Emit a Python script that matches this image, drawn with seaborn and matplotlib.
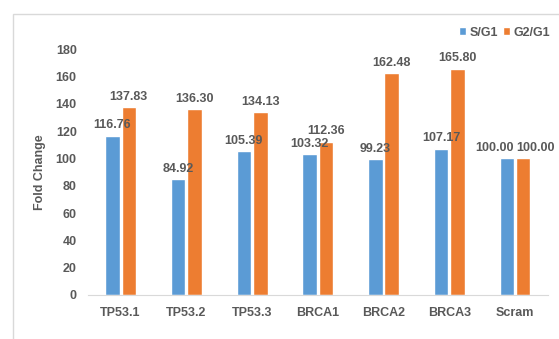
import pandas as pd
import matplotlib.pyplot as plt
import seaborn as sns
from matplotlib.patches import Rectangle

groups = ["TP53.1", "TP53.2", "TP53.3", "BRCA1", "BRCA2", "BRCA3", "Scram"]
s_g1 = [116.76, 84.92, 105.39, 103.32, 99.23, 107.17, 100.00]
g2_g1 = [137.83, 136.30, 134.13, 112.36, 162.48, 165.80, 100.00]
series = ["S/G1", "G2/G1"]
colors = ["#5B9BD5", "#ED7D31"]
yticks = [0, 20, 40, 60, 80, 100, 120, 140, 160, 180]

df = pd.DataFrame({
    "group": groups * 2,
    "series": [series[0]] * len(groups) + [series[1]] * len(groups),
    "value": s_g1 + g2_g1,
})

sns.set_style("white")
plt.rcParams["font.family"] = ["Liberation Sans", "DejaVu Sans"]
txt = "#595959"

fig = plt.figure(figsize=(5.59, 3.39), dpi=100)
# light frame of the chart area (cut off on right/bottom in the original)
fig.patches.append(Rectangle((13 / 559, -0.2), 1.2, 1.2 - 14 / 339 + 0.001,
                             transform=fig.transFigure, fill=False,
                             edgecolor="#D9D9D9", linewidth=1))

ax = fig.add_axes([0.157, 0.130, 0.823, 0.725])
sns.barplot(data=df, x="group", y="value", hue="series", palette=colors,
            width=0.5, gap=0.12, ax=ax, saturation=1)

for i, c in enumerate(ax.containers):
    anns = ax.bar_label(c, fmt="%.2f", padding=3, fontsize=9,
                        fontweight="bold", color=txt)
    # last group: values equal, push labels apart like the original
    anns[-1].xyann = (-9, 3) if i == 0 else (9, 3)

ax.set_ylim(0, 180)
ax.set_xlim(-0.5, len(groups) - 0.5)
ax.set_yticks(yticks)
ax.set_xlabel("")
ax.set_ylabel("Fold Change", fontsize=9, fontweight="bold", color=txt, labelpad=7)
ax.tick_params(axis="both", length=0, labelsize=9, labelcolor=txt)
ax.tick_params(axis="x", pad=9)
ax.tick_params(axis="y", pad=8)
for lab in ax.get_xticklabels() + ax.get_yticklabels():
    lab.set_fontweight("bold")

sns.despine(ax=ax, left=True)
ax.spines["bottom"].set_color("#D9D9D9")

handles, labels = ax.get_legend_handles_labels()
ax.legend(handles, labels, loc="upper right", bbox_to_anchor=(1.005, 0.955),
          bbox_transform=fig.transFigure, ncol=2, frameon=False,
          handlelength=0.55, handleheight=0.55, handletextpad=0.3,
          columnspacing=0.4, prop={"weight": "bold", "size": 9},
          labelcolor=txt)

fig.savefig("out.png", dpi=100)
